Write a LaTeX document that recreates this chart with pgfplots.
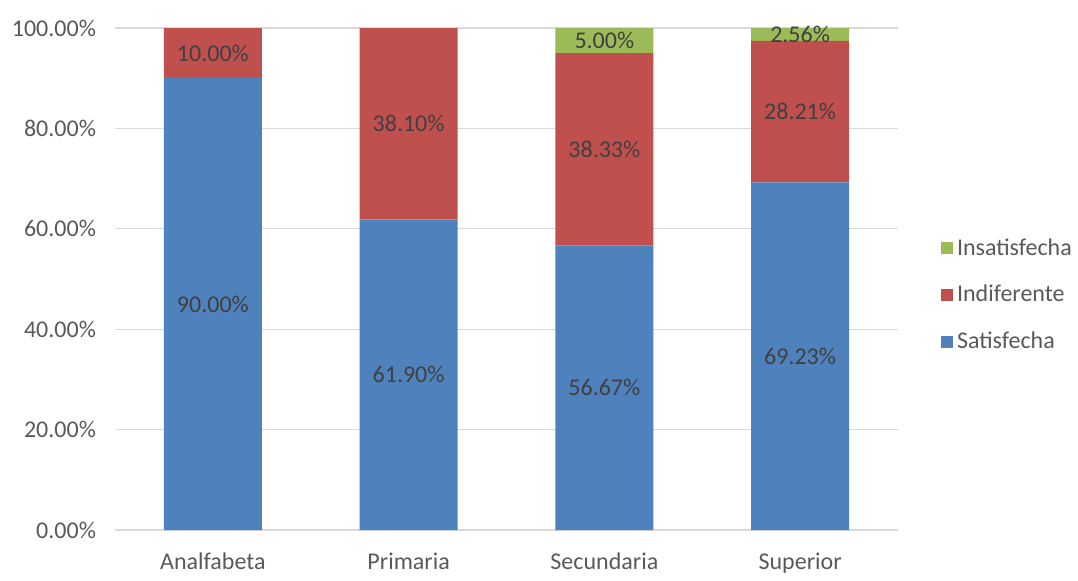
\documentclass[border=0pt]{standalone}
\usepackage{fontspec}
\setmainfont{Carlito}
\usepackage{pgfplots}
\usepackage{pgfplotstable}
\pgfplotsset{compat=1.18}

\definecolor{cSat}{HTML}{4F81BD}
\definecolor{cInd}{HTML}{C0504D}
\definecolor{cIns}{HTML}{9BBB59}
\definecolor{cGrid}{HTML}{D9D9D9}
\definecolor{cText}{HTML}{595959}
\definecolor{cLabel}{HTML}{404040}

% nivel, satisfecha, indiferente, insatisfecha (%)
\pgfplotstableread{
x sat ind ins
0 90.00 10.00 0.00
1 61.90 38.10 0.00
2 56.67 38.33 5.00
3 69.23 28.21 2.56
}\datos

\begin{document}
\begin{tikzpicture}
\begin{axis}[
    scale only axis,
    width=391.5pt, height=251pt,
    ybar stacked,
    bar width=0.5,
    xmin=-0.5, xmax=3.5,
    ymin=0, ymax=100,
    xtick={0,1,2,3},
    xticklabels={Analfabeta, Primaria, Secundaria, Superior},
    ytick={0,20,40,60,80,100},
    yticklabel={\pgfmathprintnumber[fixed,fixed zerofill,precision=2]{\tick}\%},
    /pgf/number format/assume math mode=true,
    ymajorgrids=true,
    grid style={cGrid, line width=0.6pt},
    axis line style={draw=none},
    major tick length=0pt,
    tick label style={font=\fontsize{12}{14}\selectfont, text=cText},
    xticklabel style={yshift=-8pt},
    yticklabel style={xshift=-6pt},
    clip=false,
    reverse legend,
    legend cell align=left,
    legend style={at={(axis description cs:1.055,0.468)}, anchor=west,
        draw=none, fill=none, font=\fontsize{12}{14}\selectfont,
        text=cText, row sep=9.5pt, inner sep=0pt, outer sep=0pt},
    legend image code/.code={\fill[#1] (0pt,-3pt) rectangle (6pt,3pt);},
    nodes near coords={\pgfmathfloatifflags{\pgfplotspointmeta}{0}{}{\pgfmathprintnumber[fixed,fixed zerofill,precision=2]{\pgfplotspointmeta}\%}},
    every node near coord/.append style={font=\fontsize{12}{14}\selectfont,
        text=cLabel, anchor=center},
]
\addplot[fill=cSat, draw=none] table[x=x, y=sat] {\datos};
\addplot[fill=cInd, draw=none] table[x=x, y=ind] {\datos};
\addplot[fill=cIns, draw=none] table[x=x, y=ins] {\datos};
\legend{Satisfecha, Indiferente, Insatisfecha}
\path (axis description cs:-0.1469,-0.0797) rectangle (axis description cs:1.2299,1.0558);
\end{axis}
\end{tikzpicture}
\end{document}
